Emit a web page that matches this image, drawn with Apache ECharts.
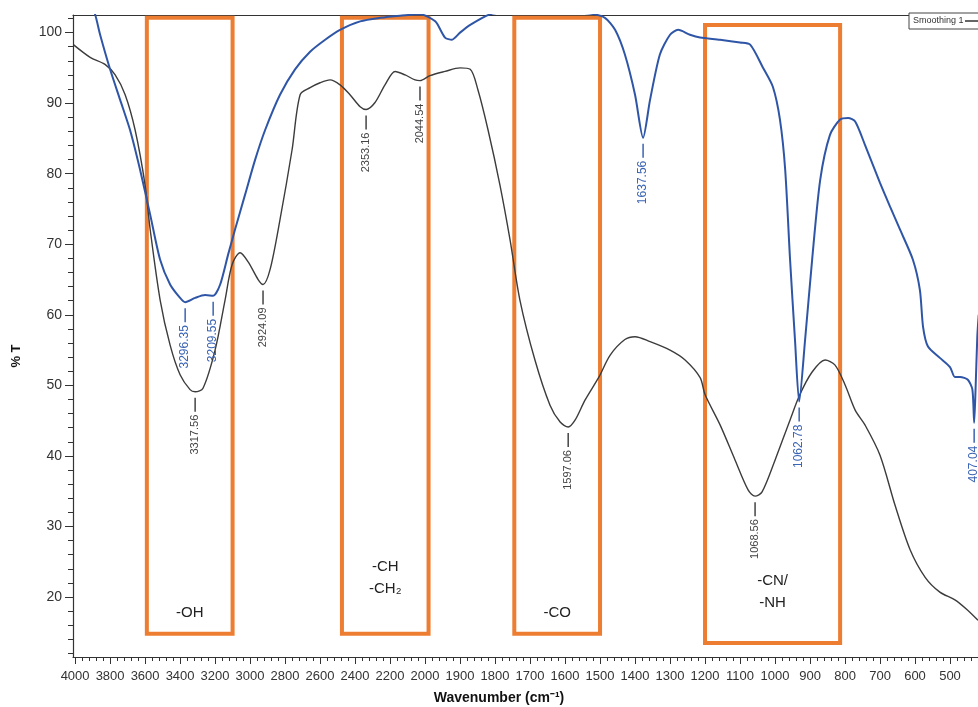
<!DOCTYPE html>
<html><head><meta charset="utf-8">
<script src="https://cdn.jsdelivr.net/npm/echarts@6/dist/echarts.min.js"></script>
<style>html,body{margin:0;padding:0;background:#fff}#c{width:978px;height:707px}</style>
</head><body><div id="c"></div>
<script>
// ---- data (wavenumber in cm-1, transmittance in %T) ----
const blackWn = [4010,3914,3829,3771,3714,3657,3600,3571,3514,3457,3400,3343,3314,3269,3200,3143,3103,3057,3011,2954,2926,2886,2829,2760,2714,2657,2600,2543,2486,2429,2371,2337,2286,2229,2171,2114,2057,2029,1986,1943,1900,1871,1849,1820,1786,1757,1729,1686,1643,1614,1591,1571,1543,1503,1471,1429,1400,1357,1300,1257,1214,1200,1157,1114,1077,1057,1037,1000,957,929,894,857,829,800,771,743,700,657,614,571,529,486,451,420];
const blackT = [98.3,96.5,95.5,94.0,91.2,86.2,78.4,72.1,62.1,55.7,51.5,49.4,49.1,49.6,55.0,62.1,67.1,68.8,67.5,65.0,64.3,66.4,73.5,83.4,91.2,92.2,92.9,93.3,92.6,91.2,89.5,89.1,90.1,92.6,94.5,94.0,93.3,93.2,93.9,94.5,95.0,94.8,91.9,86.2,78.4,70.6,62.1,53.6,47.2,44.8,44.1,45.1,47.9,51.2,54.3,56.5,56.9,56.2,55.0,53.6,51.1,48.7,44.4,39.4,35.2,34.3,34.9,39.4,45.1,48.7,51.9,53.6,52.9,50.1,46.5,44.4,40.1,33.0,26.7,22.8,20.7,19.6,18.2,16.7];
const blueWn = [3914,3886,3857,3800,3743,3686,3629,3571,3514,3457,3400,3371,3314,3257,3211,3171,3126,3086,3029,2971,2914,2829,2743,2657,2571,2486,2371,2257,2143,2029,1971,1943,1923,1900,1871,1814,1757,1700,1614,1529,1486,1457,1429,1400,1377,1357,1329,1300,1277,1243,1214,1157,1100,1071,1034,1006,986,971,957,943,931,914,894,871,843,814,791,771,743,700,671,643,606,586,577,563,529,500,486,471,449,436,431,427,422,418];
const blueT = [104,102.6,99.7,94.8,90.5,86.2,80.6,74.2,67.8,64.3,62.4,61.8,62.4,62.8,62.7,64.3,68.5,72.1,77.0,82.0,86.2,91.2,94.8,97.3,99.0,100.4,101.6,102.1,102.4,102.6,101.6,99.3,99.0,100,101.1,102.6,103,103.3,103,102.7,102.1,100.4,96.9,91.2,85.1,90.5,96.9,99.7,100.4,99.7,99.3,99.0,98.6,98.3,95.0,92.3,87.7,80.6,67.8,56.5,47.7,56.5,67.8,79.1,85.5,87.7,87.9,87.4,84.1,78.7,75.3,72.1,67.8,63.5,58.3,55.5,53.9,52.6,51.2,51.2,50.8,49.4,44.7,49.4,56.9,60];

const xTickLabels = [4000,3800,3600,3400,3200,3000,2800,2600,2400,2200,2000,1900,1800,1700,1600,1500,1400,1300,1200,1100,1000,900,800,700,600,500];
const yTickLabels = [20,30,40,50,60,70,80,90,100];

const peakText = ['3317.56','2924.09','2353.16','2044.54','1597.06','1068.56','3296.35','3209.55','1637.56','1062.78','407.04'];
const peakWn   = [3314,2926,2337,2029,1591,1057,3371,3211,1377,931,431];
const peakT    = [49.1,64.3,89.1,93.2,44.1,34.3,61.8,62.7,85.1,47.7,44.7];
const peakSeries = ['black','black','black','black','black','black','blue','blue','blue','blue','blue'];

const boxLabels  = ['-OH', '-CH\n-CH\u2082', '-CO', '-CN/\n-NH'];
const boxWnFrom  = [3590, 2475, 1745, 1200];
const boxWnTo    = [3100, 1990, 1500, 814];
const boxTTop    = [102.1, 102.1, 102.1, 101.1];
const boxTBottom = [14.8, 14.8, 14.8, 13.5];

// ---- display coordinate: 2x compression below 2000 cm-1 ----
function toD(w){ return w >= 2000 ? (4000 - w) / 2 : 1000 + (2000 - w); }
function fromD(d){ return d <= 1000 ? 4000 - 2 * d : 3000 - d; }

const X_MIN = -6, X_MAX = 2580, Y_MIN = 11.5, Y_MAX = 102.5;
const COL_BLACK = '#3c3c3c', COL_BLUE = '#2f56a6', COL_ORANGE = '#ED7D31';
const FONT = 'Liberation Sans, Arial, sans-serif';
const LABEL_GAP = [12, 36, 12, 31];

const majorX = xTickLabels.map(toD);
const minorX = [];
for (let d = 0; d <= X_MAX; d += 20) if (d % 100 !== 0) minorX.push(d);
const minorY = [];
for (let v = 12; v <= 102; v += 2) if (v % 10 !== 0) minorY.push(v);

const blackData = blackWn.map((w, i) => [toD(w), blackT[i]]);
const blueData = blueWn.map((w, i) => [toD(w), blueT[i]]);

const chart = echarts.init(document.getElementById('c'));
const option = {
  animation: false,
  backgroundColor: '#fff',
  grid: { left: 73, right: 0, top: 15, bottom: 50, containLabel: false },
  xAxis: [
    { type: 'value', min: X_MIN, max: X_MAX, position: 'bottom',
      axisLine: { show: true, onZero: false, lineStyle: { color: '#333', width: 1.2 } },
      axisTick: { show: true, customValues: majorX, length: 7, lineStyle: { color: '#333' } },
      axisLabel: { show: true, customValues: majorX, margin: 13, fontSize: 13, color: '#333', fontFamily: FONT,
        formatter: v => String(Math.round(fromD(v))) },
      splitLine: { show: false } },
    { type: 'value', min: X_MIN, max: X_MAX, position: 'bottom',
      axisLine: { show: false, onZero: false },
      axisTick: { show: true, customValues: minorX, length: 4, lineStyle: { color: '#333' } },
      axisLabel: { show: false }, splitLine: { show: false } },
    { type: 'value', min: X_MIN, max: X_MAX, position: 'top',
      axisLine: { show: true, onZero: false, lineStyle: { color: '#333', width: 1.2 } },
      axisTick: { show: false }, axisLabel: { show: false }, splitLine: { show: false } }
  ],
  yAxis: [
    { type: 'value', min: Y_MIN, max: Y_MAX, position: 'left',
      axisLine: { show: true, onZero: false, lineStyle: { color: '#333', width: 1.2 } },
      axisTick: { show: true, customValues: yTickLabels, length: 8, lineStyle: { color: '#333' } },
      axisLabel: { show: true, customValues: yTickLabels, margin: 11, fontSize: 14, color: '#333', fontFamily: FONT },
      splitLine: { show: false } },
    { type: 'value', min: Y_MIN, max: Y_MAX, position: 'left',
      axisLine: { show: false, onZero: false },
      axisTick: { show: true, customValues: minorY, length: 5, lineStyle: { color: '#333' } },
      axisLabel: { show: false }, splitLine: { show: false } }
  ],
  series: [
    { name: 'black', type: 'line', data: blackData, showSymbol: false, smooth: 0.3, clip: true,
      lineStyle: { color: COL_BLACK, width: 1.4 }, z: 3,
      markArea: { silent: true,
        itemStyle: { color: 'rgba(0,0,0,0)', borderColor: COL_ORANGE, borderWidth: 4 },
        label: { show: true, position: 'insideBottom', distance: 12, fontSize: 15, color: '#222',
                 fontFamily: FONT, lineHeight: 22, align: 'center' },
        data: boxLabels.map((t, i) => [
          { name: t, coord: [toD(boxWnFrom[i]), boxTTop[i]], label: { distance: LABEL_GAP[i] } },
          { coord: [toD(boxWnTo[i]), boxTBottom[i]] }
        ]) } },
    { name: 'blue', type: 'line', data: blueData, showSymbol: false, smooth: 0.25, clip: true,
      lineStyle: { color: COL_BLUE, width: 2 }, z: 4 }
  ]
};
chart.setOption(option);

// peak annotations and static texts
const graphics = [];
peakText.forEach((t, i) => {
  const p = chart.convertToPixel({ xAxisIndex: 0, yAxisIndex: 0 }, [toD(peakWn[i]), peakT[i]]);
  const col = peakSeries[i] === 'blue' ? '#3a64b4' : '#444';
  graphics.push({ type: 'line', shape: { x1: p[0], y1: p[1] + 6, x2: p[0], y2: p[1] + 20 },
    style: { stroke: col, lineWidth: 1.5 }, z: 10 });
  graphics.push({ type: 'text', x: p[0], y: p[1] + 23, rotation: Math.PI / 2,
    style: { text: t, fill: col, font: (peakSeries[i] === 'blue' ? '12px ' : '11px ') + FONT,
             align: 'right', verticalAlign: 'middle' }, z: 10 });
});
graphics.push({ type: 'text', x: 499, y: 698, style: { text: 'Wavenumber (cm\u207B\u00B9)', fill: '#111',
  font: 'bold 14px ' + FONT, align: 'center', verticalAlign: 'middle' } });
graphics.push({ type: 'text', x: 16, y: 356, rotation: Math.PI / 2, style: { text: '% T', fill: '#111',
  font: 'bold 13px ' + FONT, align: 'center', verticalAlign: 'middle' } });
graphics.push({ type: 'rect', shape: { x: 909, y: 13, width: 80, height: 16 },
  style: { fill: '#fff', stroke: '#444', lineWidth: 1 }, z: 20 });
graphics.push({ type: 'text', x: 913, y: 21, style: { text: 'Smoothing 1', fill: '#333',
  font: '9px ' + FONT, align: 'left', verticalAlign: 'middle' }, z: 21 });
graphics.push({ type: 'line', shape: { x1: 965, y1: 21, x2: 978, y2: 21 },
  style: { stroke: '#333', lineWidth: 1.5 }, z: 21 });
chart.setOption({ graphic: graphics });
</script></body></html>
